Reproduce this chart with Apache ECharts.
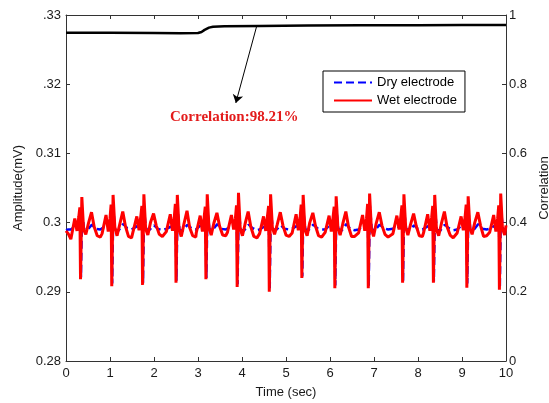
<!DOCTYPE html>
<html>
<head>
<meta charset="utf-8">
<script src="https://cdn.jsdelivr.net/npm/echarts@6/dist/echarts.min.js"></script>
<style>
html,body{margin:0;padding:0;background:#fff;overflow:hidden;width:549px;height:403px;}
#chart{position:absolute;left:0;top:0;width:549px;height:403px;}
</style>
</head>
<body>
<div id="chart"></div>
<script>
// ---- data ----
const xTicks = [0,1,2,3,4,5,6,7,8,9,10];
const leftTickLabels = {'0.33':'.33','0.32':'.32','0.31':'0.31','0.3':'0.3','0.29':'0.29','0.28':'0.28'};
const rightTickLabels = {'0':'0','0.2':'0.2','0.4':'0.4','0.6':'0.6','0.8':'0.8','1':'1'};

// Wet electrode (red)
const wetT = [
 0, 0.05,
 0.11,0.20,0.25,0.29,0.315,0.33,0.36,0.40,0.45,0.51,0.58,0.64,0.71,0.78,
 0.82,0.91,0.96,1.00,1.025,1.04,1.07,1.11,1.16,1.22,1.29,1.35,1.42,1.49,
 1.52,1.61,1.66,1.70,1.725,1.74,1.77,1.81,1.86,1.92,1.99,2.05,2.12,2.19,
 2.28,2.37,2.42,2.46,2.485,2.50,2.53,2.57,2.62,2.68,2.75,2.81,2.88,2.95,
 2.96,3.05,3.10,3.14,3.165,3.18,3.21,3.25,3.30,3.36,3.43,3.49,3.56,3.63,
 3.67,3.76,3.81,3.85,3.875,3.89,3.92,3.96,4.01,4.07,4.14,4.20,4.27,4.34,
 4.40,4.49,4.54,4.58,4.605,4.62,4.65,4.69,4.74,4.80,4.87,4.93,5.00,5.07,
 5.14,5.23,5.28,5.32,5.345,5.36,5.39,5.43,5.48,5.54,5.61,5.67,5.74,5.81,
 5.89,5.98,6.03,6.07,6.095,6.11,6.14,6.18,6.23,6.29,6.36,6.42,6.49,6.56,
 6.65,6.74,6.79,6.83,6.855,6.87,6.90,6.94,6.99,7.05,7.12,7.18,7.25,7.32,
 7.43,7.52,7.57,7.61,7.635,7.65,7.68,7.72,7.77,7.83,7.90,7.96,8.03,8.10,
 8.13,8.22,8.27,8.31,8.335,8.35,8.38,8.42,8.47,8.53,8.60,8.66,8.73,8.80,
 8.89,8.98,9.03,9.07,9.095,9.11,9.14,9.18,9.23,9.29,9.36,9.42,9.49,9.56,
 9.63,9.72,9.77,9.81,9.835,9.85,9.88,9.92,9.97,10.0
];
const wetV = [
 0.2988, 0.2984,
 0.2976,0.3006,0.2988,0.3008,0.3022,0.2918,0.3037,0.2990,0.2983,0.2999,0.3015,0.2994,0.2981,0.2979,
 0.2984,0.3011,0.2987,0.3006,0.3026,0.2908,0.3040,0.2993,0.2981,0.2997,0.3016,0.2995,0.2980,0.2978,
 0.2986,0.3009,0.2989,0.3009,0.3024,0.2910,0.3041,0.2991,0.2982,0.3000,0.3013,0.2996,0.2983,0.2980,
 0.2987,0.3012,0.2988,0.3007,0.3027,0.2913,0.3040,0.2990,0.2980,0.2998,0.3017,0.2993,0.2981,0.2979,
 0.2985,0.3010,0.2987,0.3008,0.3023,0.2918,0.3041,0.2992,0.2982,0.2999,0.3014,0.2995,0.2982,0.2981,
 0.2986,0.3011,0.2990,0.3006,0.3025,0.2907,0.3043,0.2991,0.2981,0.2998,0.3016,0.2994,0.2980,0.2978,
 0.2984,0.3009,0.2988,0.3010,0.3024,0.2900,0.3041,0.2993,0.2983,0.2997,0.3015,0.2996,0.2982,0.2980,
 0.2985,0.3012,0.2989,0.3007,0.3026,0.2920,0.3040,0.2990,0.2981,0.3000,0.3014,0.2995,0.2981,0.2979,
 0.2986,0.3010,0.2987,0.3008,0.3023,0.2905,0.3038,0.2992,0.2982,0.2998,0.3016,0.2994,0.2980,0.2980,
 0.2985,0.3011,0.2988,0.3006,0.3027,0.2905,0.3042,0.2991,0.2980,0.2999,0.3015,0.2996,0.2983,0.2979,
 0.2984,0.3010,0.2990,0.3009,0.3025,0.2913,0.3041,0.2993,0.2982,0.2997,0.3013,0.2995,0.2981,0.2980,
 0.2986,0.3012,0.2988,0.3007,0.3024,0.2913,0.3040,0.2990,0.2981,0.2998,0.3016,0.2994,0.2982,0.2978,
 0.2985,0.3009,0.2989,0.3008,0.3026,0.2906,0.3038,0.2992,0.2983,0.3000,0.3015,0.2996,0.2980,0.2981,
 0.2986,0.3011,0.2987,0.3006,0.3025,0.2903,0.3042,0.2991,0.2982,0.2996
];

// Dry electrode (blue, dashed)
const dryT = [
 0, 0.05,
 0.11,0.21,0.29,0.32,0.34,0.365,0.41,0.48,0.59,0.68,0.78,
 0.82,0.92,1.00,1.03,1.05,1.075,1.12,1.19,1.30,1.39,1.49,
 1.52,1.62,1.70,1.73,1.75,1.775,1.82,1.89,2.00,2.09,2.19,
 2.28,2.38,2.46,2.49,2.51,2.535,2.58,2.65,2.76,2.85,2.95,
 2.96,3.06,3.14,3.17,3.19,3.215,3.26,3.33,3.44,3.53,3.63,
 3.67,3.77,3.85,3.88,3.90,3.925,3.97,4.04,4.15,4.24,4.34,
 4.40,4.50,4.58,4.61,4.63,4.655,4.70,4.77,4.88,4.97,5.07,
 5.14,5.24,5.32,5.35,5.37,5.395,5.44,5.51,5.62,5.71,5.81,
 5.89,5.99,6.07,6.10,6.12,6.145,6.19,6.26,6.37,6.46,6.56,
 6.65,6.75,6.83,6.86,6.88,6.905,6.95,7.02,7.13,7.22,7.32,
 7.43,7.53,7.61,7.64,7.66,7.685,7.73,7.80,7.91,8.00,8.10,
 8.13,8.23,8.31,8.34,8.36,8.385,8.43,8.50,8.61,8.70,8.80,
 8.89,8.99,9.07,9.10,9.12,9.145,9.19,9.26,9.37,9.46,9.56,
 9.63,9.73,9.81,9.84,9.86,9.885,9.93,10.0
];
const dryV = [
 0.2989, 0.2990,
 0.2990,0.2995,0.2993,0.3004,0.2921,0.3016,0.2991,0.2989,0.2997,0.2991,0.2990,
 0.2991,0.2996,0.2992,0.3005,0.2912,0.3018,0.2990,0.2988,0.2998,0.2992,0.2990,
 0.2990,0.2995,0.2993,0.3003,0.2913,0.3017,0.2991,0.2989,0.2996,0.2991,0.2989,
 0.2991,0.2994,0.2992,0.3004,0.2916,0.3019,0.2990,0.2988,0.2997,0.2992,0.2990,
 0.2990,0.2996,0.2993,0.3005,0.2920,0.3016,0.2991,0.2989,0.2998,0.2991,0.2990,
 0.2989,0.2995,0.2992,0.3004,0.2911,0.3018,0.2990,0.2988,0.2997,0.2992,0.2989,
 0.2990,0.2994,0.2993,0.3003,0.2905,0.3017,0.2991,0.2989,0.2996,0.2991,0.2990,
 0.2991,0.2995,0.2992,0.3005,0.2922,0.3016,0.2990,0.2989,0.2997,0.2992,0.2990,
 0.2990,0.2996,0.2993,0.3004,0.2909,0.3019,0.2991,0.2988,0.2998,0.2991,0.2989,
 0.2990,0.2995,0.2992,0.3006,0.2908,0.3025,0.2990,0.2989,0.2997,0.2992,0.2990,
 0.2991,0.2994,0.2993,0.3004,0.2916,0.3017,0.2991,0.2989,0.2996,0.2991,0.2990,
 0.2990,0.2995,0.2992,0.3003,0.2915,0.3018,0.2990,0.2988,0.2997,0.2992,0.2989,
 0.2990,0.2996,0.2993,0.3005,0.2912,0.3016,0.2991,0.2989,0.2998,0.2991,0.2990,
 0.2991,0.2995,0.2992,0.3004,0.2906,0.3020,0.2990,0.2991
];

// Correlation (black, right axis)
const corrT = [0, 1, 2, 2.6, 3.0, 3.08, 3.15, 3.25, 3.34, 3.6, 4.4, 5.5, 6.7, 8, 9, 10];
const corrV = [0.9488, 0.9485, 0.9478, 0.9475, 0.9480, 0.9510, 0.9570, 0.9635, 0.9660, 0.9672, 0.9682, 0.9695, 0.9702, 0.9706, 0.9708, 0.9710];

const annotationText = 'Correlation:98.21%';
const arrowFrom = [4.33, 0.966];
const arrowTo = [3.86, 0.746];

// ---- chart ----
const chart = echarts.init(document.getElementById('chart'), null, {renderer:'canvas', width:549, height:403});
const axisColor = '#333';
const labelStyle = {color:'#1a1a1a', fontSize:13, fontFamily:'Liberation Sans, Arial, sans-serif'};
const pair = (T, V) => T.map((t, i) => [t, V[i]]);

chart.setOption({
  animation: false,
  backgroundColor: '#fff',
  grid: {left:66, right:43, top:15, bottom:42, containLabel:false, outerBoundsMode:'none'},
  legend: {
    data: ['Dry electrode', 'Wet electrode'],
    orient: 'vertical',
    left: 323, top: 71,
    backgroundColor: '#fff',
    borderColor: '#000', borderWidth: 1,
    padding: [5, 8, 5, 10],
    itemWidth: 38, itemHeight: 14, itemGap: 5,
    itemStyle: {opacity: 0},
    textStyle: {color:'#000', fontSize:13, fontFamily:'Liberation Sans, Arial, sans-serif'},
    selectedMode: false
  },
  xAxis: [{
    type:'value', min:0, max:10, interval:1,
    name:'Time (sec)', nameLocation:'middle', nameGap:25,
    nameTextStyle: labelStyle,
    axisLine:{show:true, onZero:false, lineStyle:{color:axisColor, width:1}},
    axisTick:{show:true, inside:true, length:4, lineStyle:{color:axisColor}},
    axisLabel:{...labelStyle, margin:6, formatter:(v)=> xTicks.includes(v) ? String(v) : ''},
    splitLine:{show:false}
  },{
    type:'value', min:0, max:10, interval:1, position:'top',
    axisLine:{show:true, onZero:false, lineStyle:{color:axisColor, width:1}},
    axisTick:{show:true, inside:true, length:4, lineStyle:{color:axisColor}},
    axisLabel:{show:false},
    splitLine:{show:false}
  }],
  yAxis: [{
    type:'value', min:0.28, max:0.33, interval:0.01,
    name:'Amplitude(mV)', nameLocation:'middle', nameGap:37, nameRotate:90,
    nameTextStyle: labelStyle,
    axisLine:{show:true, onZero:false, lineStyle:{color:axisColor, width:1}},
    axisTick:{show:true, inside:true, length:4, lineStyle:{color:axisColor}},
    axisLabel:{...labelStyle, margin:5, formatter:(v)=>{ const k = String(Number(v.toFixed(2))); return leftTickLabels[k] || k; }},
    splitLine:{show:false}
  },{
    type:'value', min:0, max:1, interval:0.2, position:'right',
    name:'Correlation', nameLocation:'middle', nameGap:27, nameRotate:90,
    nameTextStyle: labelStyle,
    axisLine:{show:true, onZero:false, lineStyle:{color:axisColor, width:1}},
    axisTick:{show:true, inside:true, length:4, lineStyle:{color:axisColor}},
    axisLabel:{...labelStyle, margin:3, formatter:(v)=>{ const k = String(Number(v.toFixed(1))); return rightTickLabels[k] || k; }},
    splitLine:{show:false}
  }],
  series: [{
    name:'Dry electrode', type:'line', xAxisIndex:0, yAxisIndex:0,
    data: pair(dryT, dryV), showSymbol:false, symbol:'none',
    itemStyle:{color:'#0000ff'},
    lineStyle:{color:'#0000ff', width:2.5, type:[8,4]}
  },{
    name:'Wet electrode', type:'line', xAxisIndex:0, yAxisIndex:0,
    data: pair(wetT, wetV), showSymbol:false, symbol:'none',
    itemStyle:{color:'#ff0000'},
    lineStyle:{color:'#ff0000', width:3}
  },{
    name:'Correlation', type:'line', xAxisIndex:0, yAxisIndex:1,
    data: pair(corrT, corrV), showSymbol:false, symbol:'none',
    itemStyle:{color:'#000'},
    lineStyle:{color:'#000', width:2.5},
    markLine:{
      silent:true, symbol:['none','arrow'], symbolSize:8,
      label:{show:false},
      lineStyle:{color:'#000', width:1, type:'solid'},
      data:[[{coord:arrowFrom},{coord:arrowTo}]]
    }
  }],
  graphic: [{
    type:'text', left:170, top:110, z:100,
    style:{text:annotationText, fill:'#e31b1b', font:'bold 15px "Liberation Serif", "Times New Roman", serif'}
  }]
});
</script>
</body>
</html>
